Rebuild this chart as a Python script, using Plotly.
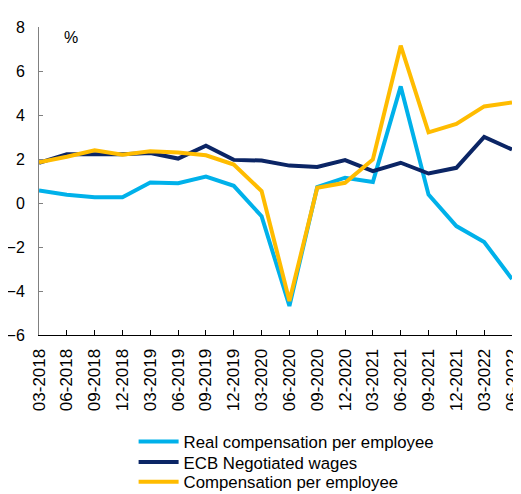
import plotly.graph_objects as go

# quarters
quarters = ['03-2018', '06-2018', '09-2018', '12-2018',
            '03-2019', '06-2019', '09-2019', '12-2019',
            '03-2020', '06-2020', '09-2020', '12-2020',
            '03-2021', '06-2021', '09-2021', '12-2021',
            '03-2022', '06-2022']

# % year-on-year
real_comp = [0.57, 0.38, 0.26, 0.26, 0.93, 0.90, 1.20, 0.78,
             -0.60, -4.68, 0.72, 1.15, 0.95, 5.30, 0.38, -1.05,
             -1.77, -3.46]
ecb_negotiated = [1.83, 2.22, 2.22, 2.22, 2.27, 2.02, 2.60, 1.96,
                  1.93, 1.70, 1.64, 1.95, 1.45, 1.83, 1.34, 1.60,
                  3.00, 2.43]
comp_per_employee = [1.85, 2.10, 2.40, 2.19, 2.35, 2.30, 2.17, 1.75,
                     0.54, -4.45, 0.69, 0.92, 1.98, 7.15, 3.21, 3.59,
                     4.39, 4.57]

y_ticks = [-6, -4, -2, 0, 2, 4, 6, 8]

series = [
    ('Real compensation per employee', real_comp, '#00B1EA'),
    ('ECB Negotiated wages', ecb_negotiated, '#0B2565'),
    ('Compensation per employee', comp_per_employee, '#FFBC00'),
]

# one legend box per series so the row spacing can be set by hand
legend_ids = ['legend', 'legend2', 'legend3']
legend_y = [-0.289, -0.356, -0.42]

fig = go.Figure()
for (name, vals, col), lg in zip(series, legend_ids):
    fig.add_trace(go.Scatter(
        x=quarters, y=vals, name=name, mode='lines',
        line=dict(color=col, width=4), legend=lg,
    ))

fig.add_annotation(text='%', xref='paper', yref='paper', x=0.048, y=1.0,
                   xanchor='left', yanchor='top', showarrow=False,
                   font=dict(size=16, color='black'))

leg_style = dict(orientation='v', x=0.2, xanchor='left', yanchor='top',
                 font=dict(size=16.8), itemwidth=40,
                 bgcolor='rgba(0,0,0,0)')

# page body has an 8px margin, so the figure is 8px smaller each way
fig.update_layout(
    width=513, height=486,
    margin=dict(l=31, r=9, t=19, b=159, autoexpand=False),
    paper_bgcolor='white', plot_bgcolor='white',
    font=dict(family='Liberation Sans, Arial', size=16, color='black'),
    showlegend=True,
    legend=dict(y=legend_y[0], **leg_style),
    legend2=dict(y=legend_y[1], **leg_style),
    legend3=dict(y=legend_y[2], **leg_style),
    xaxis=dict(type='category', range=[0, len(quarters) - 1], automargin=False,
               tickangle=-90, showgrid=False, zeroline=False,
               showline=True, linecolor='black', linewidth=1,
               ticks='inside', ticklen=5, tickcolor='black',
               ticklabelstandoff=6, tickfont=dict(size=17)),
    yaxis=dict(range=[-6, 8], tickvals=y_ticks, automargin=False,
               showgrid=False, zeroline=False,
               showline=True, linecolor='#808080', linewidth=1,
               ticks='inside', ticklen=4, tickcolor='#808080',
               ticklabelstandoff=10, tickfont=dict(size=16)),
)

fig.write_html('out.html')
